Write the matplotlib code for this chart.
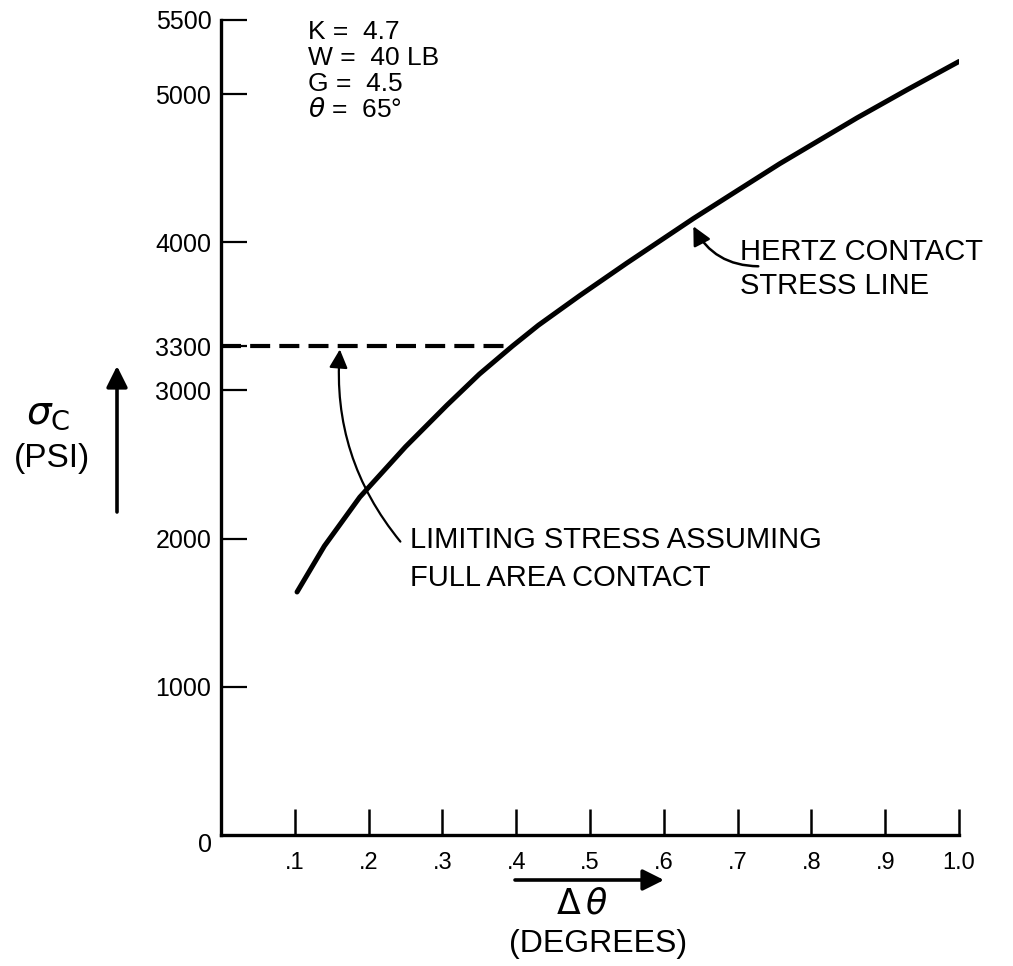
import matplotlib
matplotlib.use('Agg')
import matplotlib.pyplot as plt

# hertz contact stress line
delta_theta = [0.103, 0.14, 0.188, 0.25, 0.306, 0.35, 0.395, 0.43, 0.486, 0.55,
               0.64, 0.70, 0.757, 0.862, 0.93, 1.0]
sigma_c = [1640, 1950, 2280, 2620, 2900, 3110, 3300, 3440, 3640, 3860,
           4160, 4350, 4530, 4840, 5030, 5220]

limit_stress = 3300
limit_end = 0.388

x_ticks = [0.1, 0.2, 0.3, 0.4, 0.5, 0.6, 0.7, 0.8, 0.9, 1.0]
x_tick_labels = ['.1', '.2', '.3', '.4', '.5', '.6', '.7', '.8', '.9', '1.0']
y_ticks = [1000, 2000, 3000, 3300, 4000, 5000, 5500]
y_tick_labels = ['1000', '2000', '3000', '3300', '4000', '5000', '5500']

params = ['K =  4.7', 'W =  40 LB', 'G =  4.5', r'$\theta$ =  65°']

plt.rcParams['font.family'] = ['Liberation Sans', 'DejaVu Sans']
plt.rcParams['mathtext.fontset'] = 'dejavusans'

fig = plt.figure(figsize=(10.13, 9.66), dpi=100)
axs = fig.add_axes([0.2182, 0.1356, 0.7285, 0.8437])

axs.plot(delta_theta, sigma_c, color='black', lw=3.6, solid_capstyle='round',
         solid_joinstyle='round')
axs.plot([0, limit_end], [limit_stress, limit_stress], color='black', lw=3,
         dashes=(4.8, 2.2), dash_capstyle='butt')

axs.set_xlim(0, 1.0)
axs.set_ylim(0, 5500)
for side in ['top', 'right']:
    axs.spines[side].set_visible(False)
for side in ['left', 'bottom']:
    axs.spines[side].set_linewidth(2.4)

axs.set_xticks(x_ticks)
axs.set_xticklabels(x_tick_labels, fontsize=17)
axs.set_yticks(y_ticks)
axs.set_yticklabels(y_tick_labels, fontsize=18)
axs.tick_params(axis='x', direction='in', length=19, width=1.8, pad=12)
axs.tick_params(axis='y', direction='in', length=19, width=1.6, pad=7)
axs.text(-0.012, -70, '0', fontsize=18, ha='right', va='center')

# parameters block
for i, s in enumerate(params):
    axs.text(0.118, 5420 - i * 176, s, fontsize=19, ha='left', va='center')

# annotations
axs.text(0.703, 3932, 'HERTZ CONTACT', fontsize=21, ha='left', va='center')
axs.text(0.703, 3703, 'STRESS LINE', fontsize=21, ha='left', va='center')
axs.annotate('', xy=(0.640, 4108), xytext=(0.728, 3838),
             arrowprops=dict(arrowstyle='-|>', color='black', lw=1.8,
                             mutation_scale=28, shrinkA=0, shrinkB=0,
                             connectionstyle='arc3,rad=-0.3'))

axs.text(0.256, 1993, 'LIMITING STRESS ASSUMING', fontsize=21, ha='left', va='center')
axs.text(0.256, 1736, 'FULL AREA CONTACT', fontsize=21, ha='left', va='center')
axs.annotate('', xy=(0.161, 3277), xytext=(0.243, 1980),
             arrowprops=dict(arrowstyle='-|>', color='black', lw=1.6,
                             mutation_scale=28, shrinkA=0, shrinkB=0,
                             connectionstyle='arc3,rad=-0.2'))

# axis labels with arrows, placed in figure pixels
def fx(px):
    return px / 1013.0

def fy(py):
    return 1 - py / 966.0

fig.text(fx(48), fy(414), r'$\sigma_{\mathrm{C}}$', fontsize=28, ha='center', va='center')
fig.text(fx(52), fy(458), '(PSI)', fontsize=24, ha='center', va='center')
fig.patches.append(matplotlib.patches.FancyArrowPatch(
    (fx(117), fy(512)), (fx(117), fy(366)), transform=fig.transFigure,
    arrowstyle='-|>', mutation_scale=32, lw=2.6, color='black', shrinkA=0, shrinkB=0))

fig.patches.append(matplotlib.patches.FancyArrowPatch(
    (fx(515), fy(880)), (fx(664), fy(880)), transform=fig.transFigure,
    arrowstyle='-|>', mutation_scale=32, lw=2.6, color='black', shrinkA=0, shrinkB=0))
fig.text(fx(582), fy(904), r'$\Delta\,\theta$', fontsize=25, ha='center', va='center')
fig.text(fx(598), fy(944), '(DEGREES)', fontsize=23, ha='center', va='center')

fig.savefig('out.png', dpi=100)
